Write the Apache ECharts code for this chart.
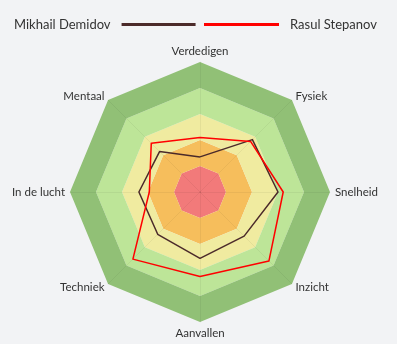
<!DOCTYPE html>
<html>
<head>
<meta charset="utf-8">
<style>
  html, body { margin: 0; padding: 0; background: #f2f3f5; }
  #chart { width: 397px; height: 344px; }
</style>
<script src="https://cdn.jsdelivr.net/npm/echarts@6/dist/echarts.min.js"></script>
</head>
<body>
<div id="chart"></div>
<script>
// Indicators, listed counter-clockwise from the top
const categories = ['Verdedigen', 'Mentaal', 'In de lucht', 'Techniek', 'Aanvallen', 'Inzicht', 'Snelheid', 'Fysiek'];
const players = ['Mikhail Demidov', 'Rasul Stepanov'];
const mikhailValues = [2.7, 4.4, 4.7, 4.6, 5.1, 4.8, 6.0, 5.7];
const rasulValues = [4.2, 5.3, 3.9, 7.3, 6.5, 7.5, 6.4, 5.5];
const maxValue = 10;

const chart = echarts.init(document.getElementById('chart'));

chart.setOption({
  backgroundColor: '#f2f3f5',
  animation: false,
  legend: [
    {
      data: [players[0]],
      left: 9,
      top: 13,
      align: 'right',
      icon: 'rect',
      itemWidth: 74,
      itemHeight: 3,
      textStyle: { fontFamily: 'Lato', fontSize: 13, color: '#333', padding: [0, 6, 0, 0] }
    },
    {
      data: [players[1]],
      left: 199,
      top: 13,
      align: 'left',
      icon: 'rect',
      itemWidth: 75,
      itemHeight: 3,
      textStyle: { fontFamily: 'Lato', fontSize: 13, color: '#333', padding: [0, 0, 0, 6] }
    }
  ],
  radar: {
    center: [200, 192],
    radius: 130,
    splitNumber: 5,
    shape: 'polygon',
    indicator: categories.map(name => ({ name, max: maxValue, min: 0 })),
    axisName: { color: '#333', fontFamily: 'Lato', fontSize: 11.5 },
    nameGap: 5,
    axisLine: { lineStyle: { color: 'rgba(0,0,0,0.05)' } },
    splitLine: { show: false },
    splitArea: {
      areaStyle: {
        color: ['#f27a7a', '#f6be5c', '#f0eba0', '#bde598', '#91c076'],
        opacity: 1
      }
    }
  },
  series: [{
    type: 'radar',
    symbol: 'none',
    data: [
      { name: players[0], value: mikhailValues, lineStyle: { color: '#4b2a2a', width: 1.5 }, itemStyle: { color: '#4b2a2a' } },
      { name: players[1], value: rasulValues, lineStyle: { color: '#ff0000', width: 1.5 }, itemStyle: { color: '#ff0000' } }
    ]
  }]
});
</script>
</body>
</html>
